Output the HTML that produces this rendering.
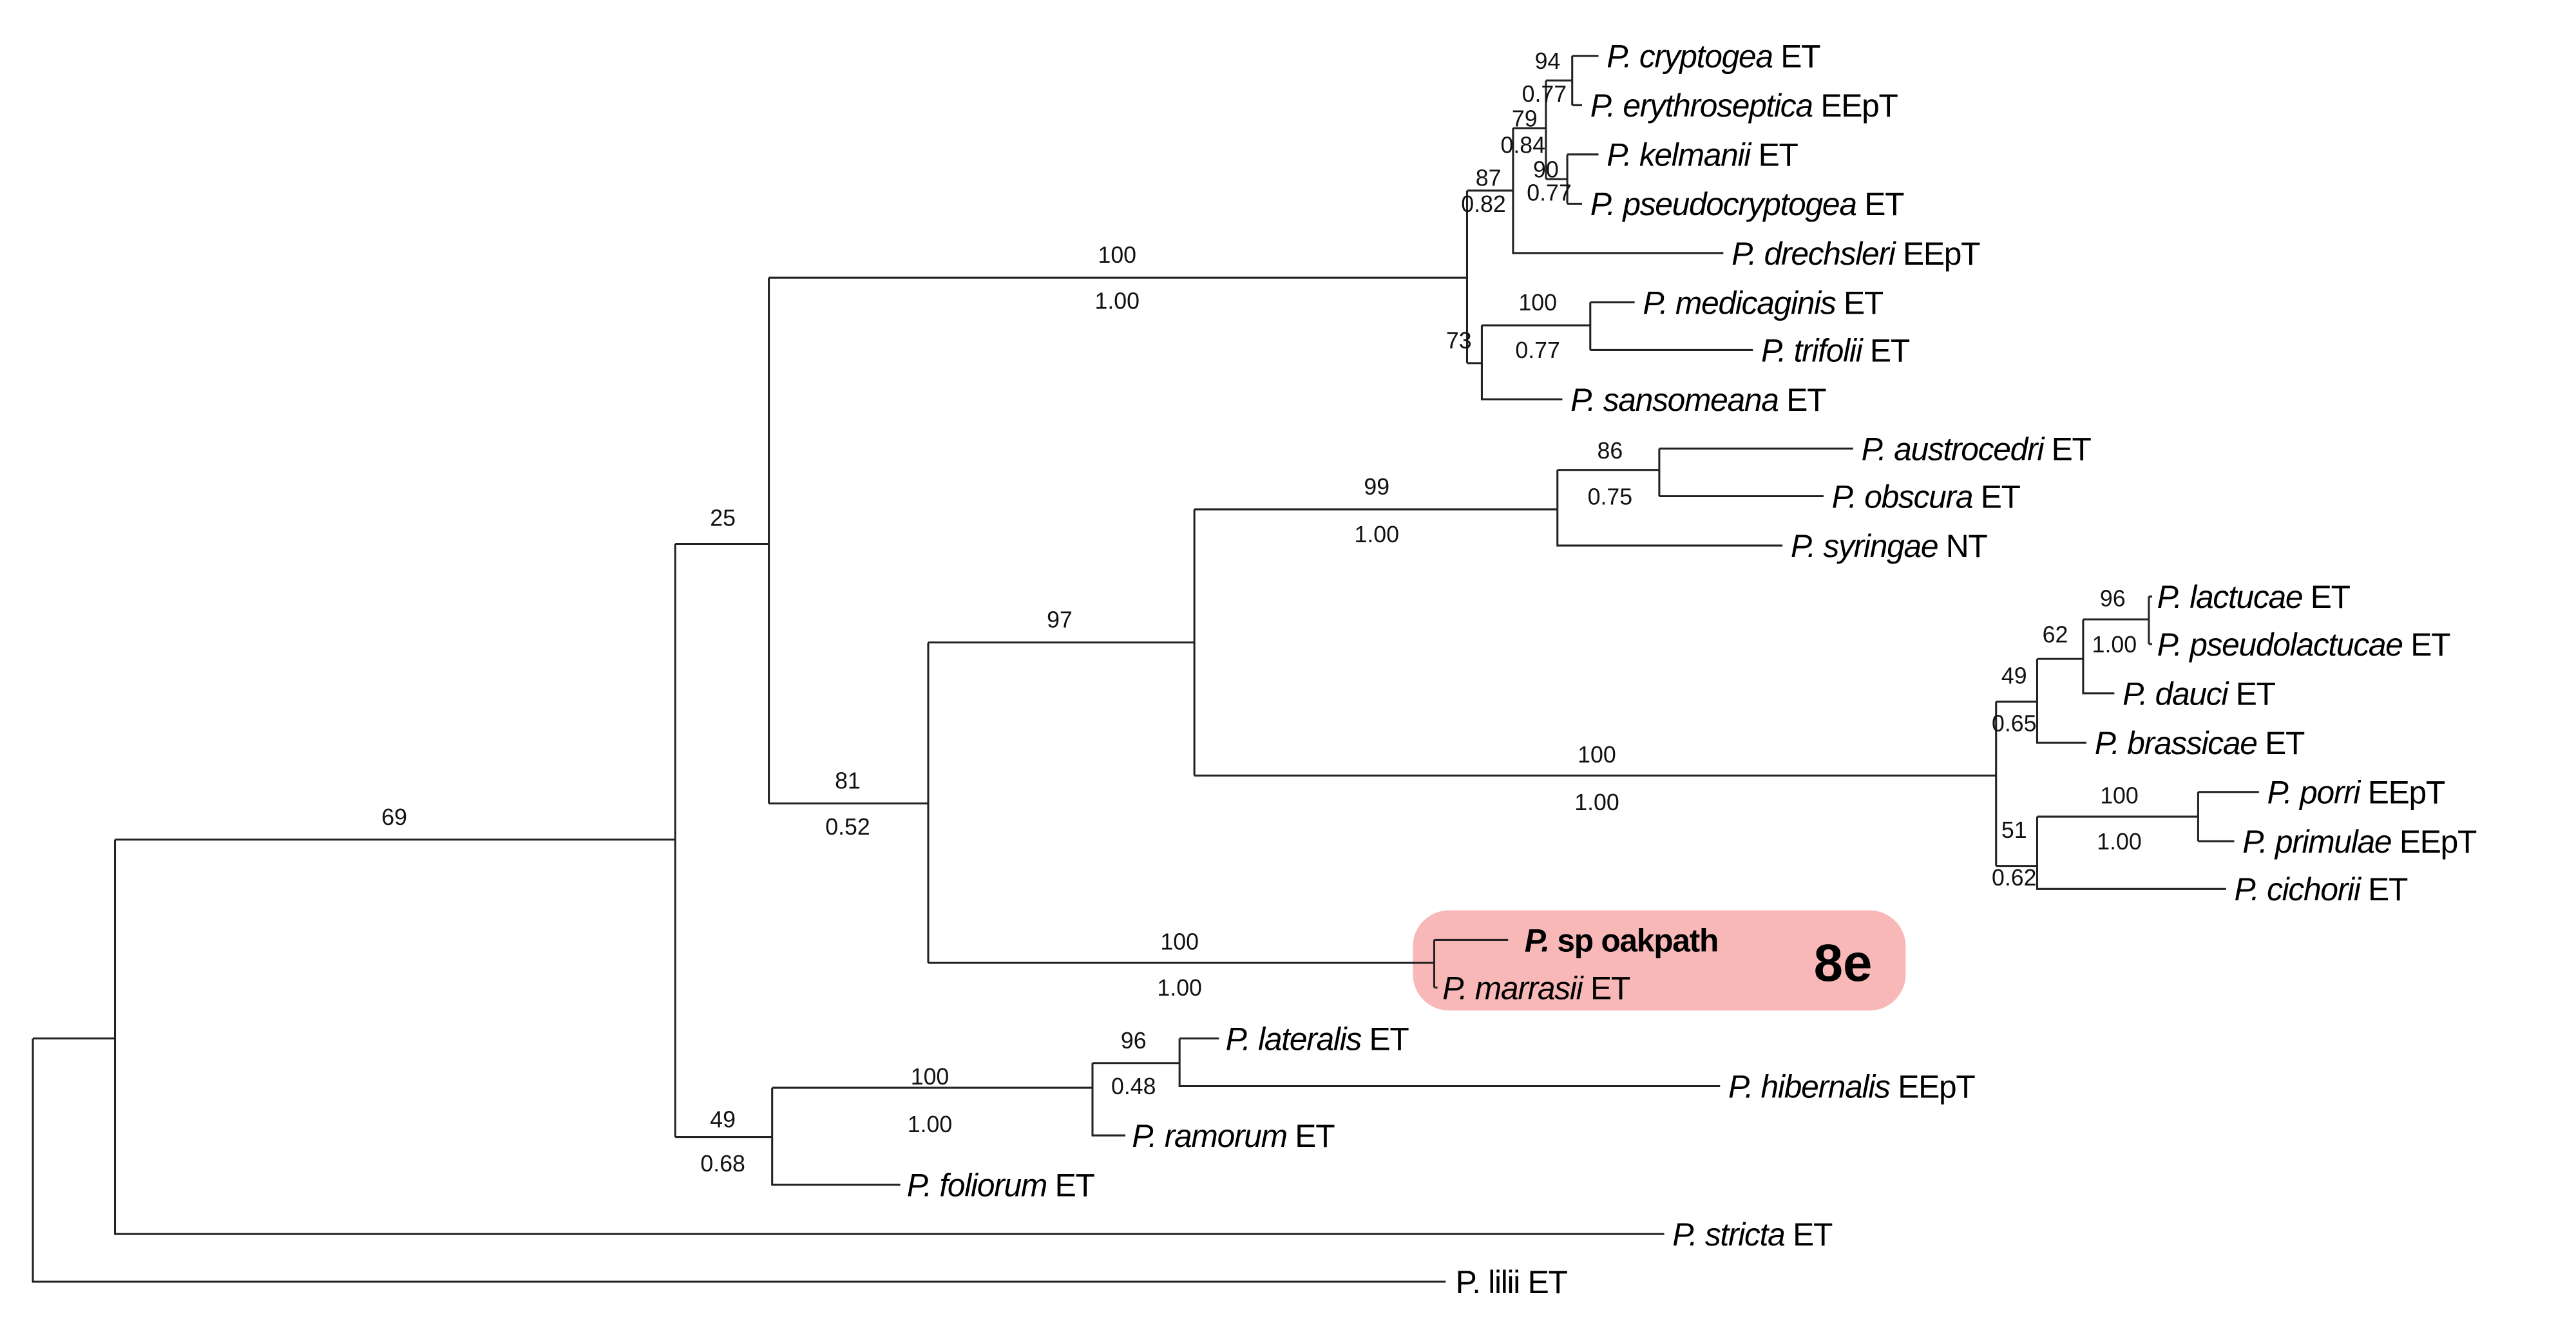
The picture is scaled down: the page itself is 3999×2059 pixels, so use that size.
<!DOCTYPE html>
<html><head><meta charset="utf-8"><style>
html,body{margin:0;padding:0;background:#fff;}
svg{display:block;}
.sp{font-family:"Liberation Sans",Arial,sans-serif;font-size:19.5px;letter-spacing:-0.5px;fill:#000;}
.s{font-family:"Liberation Sans",Arial,sans-serif;font-size:14px;fill:#111;text-anchor:middle;}
</style></head><body>
<svg width="3999" height="2059" viewBox="0 0 1568 807" preserveAspectRatio="none" xmlns="http://www.w3.org/2000/svg">
<rect x="860" y="554" width="300" height="61" rx="22" fill="#f9b8b8"/>
<g stroke="#222" stroke-width="1.2" fill="none">
<path d="M20 632V780H880 M20 632H70 M70 511V751H1013 M70 511H411"/>
<path d="M411 331V692 M411 331H468 M468 169V489 M468 169H893"/>
<path d="M893 116V221 M893 116H921 M893 221H902 M902 198V243H951 M902 198H968 M968 184V213 M968 184H995 M968 213H1067"/>
<path d="M921 78V154H1049 M921 78H941 M941 49V109 M941 49H957 M941 109H954 M957 34V64 M957 34H973 M957 64H963 M954 94V124 M954 94H973 M954 124H963"/>
<path d="M468 489H565 M565 391V586 M565 391H727 M727 310V472 M727 310H948 M948 286V332H1085 M948 286H1010 M1010 273V302 M1010 273H1128 M1010 302H1110"/>
<path d="M727 472H1215 M1215 427V527 M1215 427H1240 M1240 401V452H1270 M1240 401H1268 M1268 377V422H1287 M1268 377H1308 M1308 363V392 M1308 363H1310 M1308 392H1310"/>
<path d="M1215 527H1240 M1240 497V541H1355 M1240 497H1338 M1338 482V512 M1338 482H1375 M1338 512H1360"/>
<path d="M565 586H873 M873 572V601 M873 572H918 M873 601H875"/>
<path d="M411 692H470 M470 662V721H548 M470 662H665 M665 647V691H685 M665 647H718 M718 632V661H1047 M718 632H742"/>
</g>
<text class="s" x="240" y="502">69</text>
<text class="s" x="440" y="320">25</text>
<text class="s" x="680" y="160">100</text><text class="s" x="680" y="188">1.00</text>
<text class="s" x="516" y="480">81</text><text class="s" x="516" y="508">0.52</text>
<text class="s" x="645" y="382">97</text>
<text class="s" x="838" y="301">99</text><text class="s" x="838" y="330">1.00</text>
<text class="s" x="980" y="279">86</text><text class="s" x="980" y="307">0.75</text>
<text class="s" x="972" y="464">100</text><text class="s" x="972" y="493">1.00</text>
<text class="s" x="1286" y="369">96</text><text class="s" x="1287" y="397">1.00</text>
<text class="s" x="1251" y="391">62</text>
<text class="s" x="1226" y="416">49</text><text class="s" x="1226" y="445">0.65</text>
<text class="s" x="1290" y="489">100</text><text class="s" x="1290" y="517">1.00</text>
<text class="s" x="1226" y="510">51</text><text class="s" x="1226" y="539">0.62</text>
<text class="s" x="718" y="578">100</text><text class="s" x="718" y="606">1.00</text>
<text class="s" x="440" y="686">49</text><text class="s" x="440" y="713">0.68</text>
<text class="s" x="566" y="660">100</text><text class="s" x="566" y="689">1.00</text>
<text class="s" x="690" y="638">96</text><text class="s" x="690" y="666">0.48</text>
<text class="s" x="936" y="189">100</text><text class="s" x="936" y="218">0.77</text>
<text class="s" x="888" y="212">73</text>
<text class="s" x="906" y="113">87</text><text class="s" x="903" y="129">0.82</text>
<text class="s" x="942" y="42">94</text><text class="s" x="940" y="62">0.77</text>
<text class="s" x="928" y="77">79</text><text class="s" x="927" y="93">0.84</text>
<text class="s" x="941" y="108">90</text><text class="s" x="943" y="122">0.77</text>
<g class="sp">
<text x="978" y="41"><tspan font-style="italic">P. cryptogea</tspan> ET</text>
<text x="968" y="71"><tspan font-style="italic">P. erythroseptica</tspan> EEpT</text>
<text x="978" y="101"><tspan font-style="italic">P. kelmanii</tspan> ET</text>
<text x="968" y="131"><tspan font-style="italic">P. pseudocryptogea</tspan> ET</text>
<text x="1054" y="161"><tspan font-style="italic">P. drechsleri</tspan> EEpT</text>
<text x="1000" y="191"><tspan font-style="italic">P. medicaginis</tspan> ET</text>
<text x="1072" y="220"><tspan font-style="italic">P. trifolii</tspan> ET</text>
<text x="956" y="250"><tspan font-style="italic">P. sansomeana</tspan> ET</text>
<text x="1133" y="280"><tspan font-style="italic">P. austrocedri</tspan> ET</text>
<text x="1115" y="309"><tspan font-style="italic">P. obscura</tspan> ET</text>
<text x="1090" y="339"><tspan font-style="italic">P. syringae</tspan> NT</text>
<text x="1313" y="370"><tspan font-style="italic">P. lactucae</tspan> ET</text>
<text x="1313" y="399"><tspan font-style="italic">P. pseudolactucae</tspan> ET</text>
<text x="1292" y="429"><tspan font-style="italic">P. dauci</tspan> ET</text>
<text x="1275" y="459"><tspan font-style="italic">P. brassicae</tspan> ET</text>
<text x="1380" y="489"><tspan font-style="italic">P. porri</tspan> EEpT</text>
<text x="1365" y="519"><tspan font-style="italic">P. primulae</tspan> EEpT</text>
<text x="1360" y="548"><tspan font-style="italic">P. cichorii</tspan> ET</text>
<text x="928" y="579" font-weight="bold"><tspan font-style="italic">P.</tspan> sp oakpath</text>
<text x="878" y="608"><tspan font-style="italic">P. marrasii</tspan> ET</text>
<text x="1104" y="597" font-weight="bold" font-size="32" letter-spacing="0">8e</text>
<text x="746" y="639"><tspan font-style="italic">P. lateralis</tspan> ET</text>
<text x="1052" y="668"><tspan font-style="italic">P. hibernalis</tspan> EEpT</text>
<text x="689" y="698"><tspan font-style="italic">P. ramorum</tspan> ET</text>
<text x="552" y="728"><tspan font-style="italic">P. foliorum</tspan> ET</text>
<text x="1018" y="758"><tspan font-style="italic">P. stricta</tspan> ET</text>
<text x="886" y="787">P. lilii ET</text>
</g>
</svg>
</body></html>
